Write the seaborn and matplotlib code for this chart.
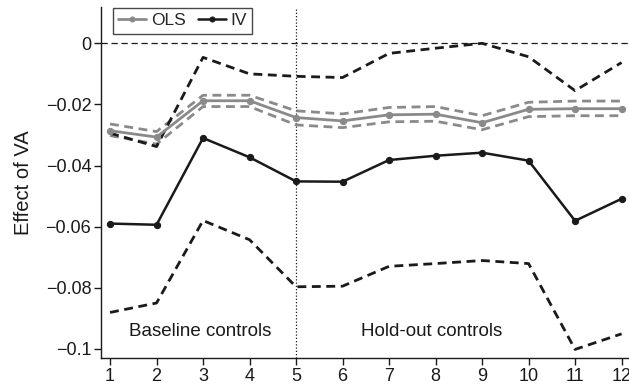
import matplotlib
matplotlib.use("Agg")
import matplotlib.pyplot as plt
import seaborn as sns
import pandas as pd

spec = list(range(1, 13))
tick_labels = [str(s) for s in spec]

ols = [-0.0286, -0.0307, -0.0188, -0.0188, -0.0243, -0.0254,
       -0.0234, -0.0232, -0.0260, -0.0216, -0.0214, -0.0214]
ols_hi = [-0.0264, -0.0289, -0.0170, -0.0170, -0.0221, -0.0231,
          -0.0210, -0.0207, -0.0237, -0.0193, -0.0189, -0.0189]
ols_lo = [-0.0302, -0.0330, -0.0207, -0.0207, -0.0267, -0.0276,
          -0.0257, -0.0255, -0.0283, -0.0240, -0.0237, -0.0237]

iv = [-0.0590, -0.0594, -0.0310, -0.0373, -0.0452, -0.0453,
      -0.0382, -0.0368, -0.0358, -0.0384, -0.0581, -0.0509]
iv_hi = [-0.0294, -0.0338, -0.0046, -0.0100, -0.0108, -0.0112,
         -0.0033, -0.0016, 0.0000, -0.0044, -0.0155, -0.0063]
iv_lo = [-0.0881, -0.0850, -0.0580, -0.0643, -0.0797, -0.0795,
         -0.0730, -0.0721, -0.0711, -0.0721, -0.1002, -0.0951]

df = pd.DataFrame({"spec": spec, "ols": ols, "ols_hi": ols_hi, "ols_lo": ols_lo,
                   "iv": iv, "iv_hi": iv_hi, "iv_lo": iv_lo})

sns.set_theme(style="white")
plt.rcParams["font.family"] = ["Liberation Sans", "DejaVu Sans"]

fig = plt.figure(figsize=(6.29, 3.87), dpi=100)
ax = fig.add_axes([0.1606, 0.075, 0.8394, 0.907])

gray = "#8a8a8a"
black = "#1a1a1a"
dash = (3.2, 2.0)

# reference lines
ax.axhline(0, color=black, lw=0.9, ls=(0, (5, 3)), zorder=1)
ax.axvline(5, color=black, lw=0.9, ls=(0, (1, 1.6)), zorder=1)

# confidence bands
for col, c in [("ols_hi", gray), ("ols_lo", gray), ("iv_hi", black), ("iv_lo", black)]:
    sns.lineplot(data=df, x="spec", y=col, ax=ax, color=c, lw=2.0,
                 dashes=False, legend=False, zorder=2).lines[-1].set_dashes(dash)

# point estimates
sns.lineplot(data=df, x="spec", y="ols", ax=ax, color=gray, lw=2.0, marker="o",
             markersize=4.5, markeredgecolor=gray, label="OLS", zorder=3)
sns.lineplot(data=df, x="spec", y="iv", ax=ax, color=black, lw=1.8, marker="o",
             markersize=4.5, markeredgecolor=black, label="IV", zorder=3)

ax.text(2.94, -0.0942, "Baseline controls", ha="center", va="center", fontsize=13.5, color=black)
ax.text(7.92, -0.0942, "Hold-out controls", ha="center", va="center", fontsize=13.5, color=black)

ax.set_xlim(0.806, 12.16)
ax.set_ylim(-0.103, 0.0119)
ax.set_xticks(spec)
ax.set_xticklabels(tick_labels)
ax.set_yticks([0, -0.02, -0.04, -0.06, -0.08, -0.1])
ax.set_yticklabels(["0", "\u22120.02", "\u22120.04", "\u22120.06", "\u22120.08", "\u22120.1"])
ax.set_xlabel("")
ax.set_ylabel("Effect of VA", fontsize=14.5, color=black, labelpad=9)

for s in ["top", "right"]:
    ax.spines[s].set_visible(False)
for s in ["left", "bottom"]:
    ax.spines[s].set_color(black)
    ax.spines[s].set_linewidth(1.0)
ax.tick_params(axis="both", direction="out", length=5, width=1.0, colors=black,
               labelsize=13, left=True, bottom=True, pad=2)

leg = ax.legend(loc="upper left", bbox_to_anchor=(0.022, 0.997), ncol=2, frameon=True,
                fontsize=12.5, handlelength=1.65, handletextpad=0.25, columnspacing=0.7,
                borderpad=0.3, borderaxespad=0.0, fancybox=False, markerscale=0.8)
leg.get_frame().set_edgecolor(black)
leg.get_frame().set_linewidth(1.0)

fig.savefig("out.png", dpi=100)
